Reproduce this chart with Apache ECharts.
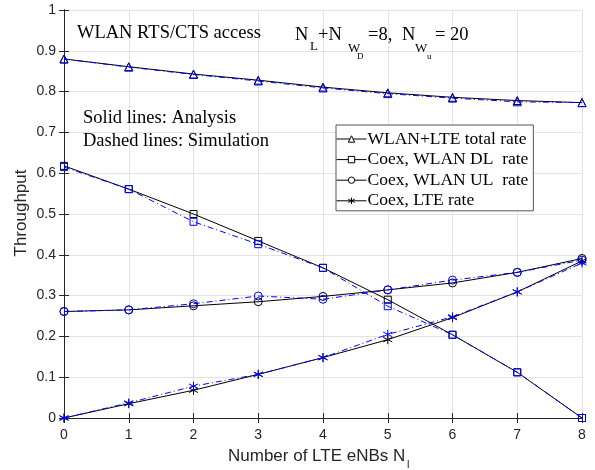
<!DOCTYPE html>
<html>
<head>
<meta charset="utf-8">
<script src="https://cdn.jsdelivr.net/npm/echarts@6/dist/echarts.min.js"></script>
<style>
  html, body { margin: 0; padding: 0; background: #fff; }
  #main { width: 595px; height: 470px; }
</style>
</head>
<body>
<div id="main"></div>
<script>
// number of LTE eNBs
const xVals = [0, 1, 2, 3, 4, 5, 6, 7, 8];

// analysis (solid, black)
const totalAna = [0.880, 0.861, 0.843, 0.828, 0.811, 0.797, 0.786, 0.778, 0.773];
const dlAna    = [0.618, 0.561, 0.500, 0.434, 0.368, 0.290, 0.204, 0.112, 0.000];
const ulAna    = [0.261, 0.265, 0.275, 0.285, 0.298, 0.314, 0.331, 0.357, 0.391];
const lteAna   = [0.000, 0.035, 0.068, 0.107, 0.148, 0.192, 0.246, 0.309, 0.385];

// simulation (dash-dot, blue)
const totalSim = [0.880, 0.860, 0.842, 0.826, 0.809, 0.795, 0.784, 0.775, 0.773];
const dlSim    = [0.615, 0.561, 0.481, 0.426, 0.368, 0.274, 0.204, 0.112, 0.000];
const ulSim    = [0.261, 0.265, 0.280, 0.299, 0.291, 0.314, 0.338, 0.357, 0.387];
const lteSim   = [0.000, 0.037, 0.078, 0.107, 0.148, 0.205, 0.248, 0.309, 0.380];

const seriesNames = ['WLAN+LTE total rate', 'Coex, WLAN DL  rate', 'Coex, WLAN UL  rate', 'Coex, LTE rate'];

const star = 'path://M0,-5L0,5M-4.33,-2.5L4.33,2.5M-4.33,2.5L4.33,-2.5';
const symbols = ['triangle', 'rect', 'circle', star];
const sizes = [8, 7, 8, 9];

const toPairs = (ys) => xVals.map((x, i) => [x, ys[i]]);

function mkSeries(name, ys, color, k, dashed) {
    return {
        name: name,
        type: 'line',
        data: toPairs(ys),
        symbol: symbols[k],
        symbolSize: sizes[k],
        showSymbol: true,
        z: dashed ? 3 : 2,
        itemStyle: { color: 'rgba(0,0,0,0)', borderColor: color, borderWidth: 1 },
        lineStyle: { color: color, width: 1, type: dashed ? [6, 3, 1, 3] : 'solid' },
        emphasis: { disabled: true },
        animation: false
    };
}

const anaSeries = [totalAna, dlAna, ulAna, lteAna].map((d, k) => mkSeries(seriesNames[k], d, '#000', k, false));
const simSeries = [totalSim, dlSim, ulSim, lteSim].map((d, k) => mkSeries('sim' + k, d, '#0000ff', k, true));

const axisCol = '#262626';
const sans = 'Liberation Sans, Arial, sans-serif';
const serif = 'Liberation Serif, Times New Roman, serif';

// y is the baseline, roughly (bottom of line box minus descent)
function txt(x, y, s, size, font, color) {
    return {
        type: 'text', x: x, y: y + Math.round(size * 0.22), silent: true, z: 50,
        style: { text: s, font: size + 'px ' + font, fill: color || '#000', align: 'left', verticalAlign: 'bottom' }
    };
}

const chart = echarts.init(document.getElementById('main'), null, { renderer: 'canvas' });

const option = {
    animation: false,
    backgroundColor: '#fff',
    grid: { left: 64, right: 13, top: 10, bottom: 52, containLabel: false },
    xAxis: [{
        type: 'value', min: 0, max: 8, interval: 1,
        axisLine: { lineStyle: { color: axisCol } },
        axisTick: { inside: true, length: 5, lineStyle: { color: axisCol } },
        axisLabel: { color: axisCol, fontFamily: sans, fontSize: 14, margin: 10 },
        splitLine: { show: true, lineStyle: { color: '#e3e3e3' } }
    }, {
        type: 'value', min: 0, max: 8, interval: 1, position: 'top',
        axisLine: { show: true, lineStyle: { color: axisCol } },
        axisTick: { inside: true, length: 5, lineStyle: { color: axisCol } },
        axisLabel: { show: false },
        splitLine: { show: false }
    }],
    yAxis: [{
        type: 'value', min: 0, max: 1, interval: 0.1,
        axisLine: { show: true, lineStyle: { color: axisCol } },
        axisTick: { show: true, inside: true, length: 5, lineStyle: { color: axisCol } },
        axisLabel: {
            color: axisCol, fontFamily: sans, fontSize: 14, margin: 8,
            formatter: (v) => String(Math.round(v * 10) / 10)
        },
        splitLine: { show: true, lineStyle: { color: '#e3e3e3' } }
    }, {
        type: 'value', min: 0, max: 1, interval: 0.1, position: 'right',
        axisLine: { show: true, lineStyle: { color: axisCol } },
        axisTick: { show: true, inside: true, length: 5, lineStyle: { color: axisCol } },
        axisLabel: { show: false },
        splitLine: { show: false }
    }],
    legend: {
        data: seriesNames.map((n) => ({ name: n, itemStyle: { color: '#fff', borderColor: '#000', borderWidth: 1 } })),
        orient: 'vertical',
        left: 336, top: 125,
        padding: [5, 5, 1, 0],
        itemWidth: 30, itemHeight: 8, itemGap: 2.6,
        backgroundColor: '#fff',
        borderColor: '#555', borderWidth: 1, borderRadius: 0,
        lineStyle: { width: 1, color: '#000' },
        textStyle: { fontFamily: serif, fontSize: 17.5, color: '#000', lineHeight: 16, padding: [0, 0, 0, -4] }
    },
    series: anaSeries.concat(simSeries),
    graphic: [
        txt(77, 39, 'WLAN RTS/CTS access', 18.5, serif),
        txt(295, 41, 'N', 18.5, serif),
        txt(310, 50, 'L', 13, serif),
        txt(318, 41, '+N', 18.5, serif),
        txt(348, 52, 'W', 13, serif),
        txt(357, 59, 'D', 9, serif),
        txt(368, 41, '=8,', 18.5, serif),
        txt(402, 41, 'N', 18.5, serif),
        txt(415, 52, 'W', 13, serif),
        txt(427, 59, 'u', 9, serif),
        txt(435, 41, '= 20', 18.5, serif),
        txt(83, 124, 'Solid lines: Analysis', 18.5, serif),
        txt(83, 147, 'Dashed lines: Simulation', 18.5, serif),
        txt(228, 461, 'Number of LTE eNBs N', 17, sans, axisCol),
        txt(407, 468, 'l', 11, sans, axisCol),
        {
            type: 'text', x: 21, y: 213, rotation: Math.PI / 2, silent: true,
            style: { text: 'Throughput', font: '17px ' + sans, fill: axisCol, align: 'center', verticalAlign: 'middle' }
        }
    ]
};

chart.setOption(option);
</script>
</body>
</html>
